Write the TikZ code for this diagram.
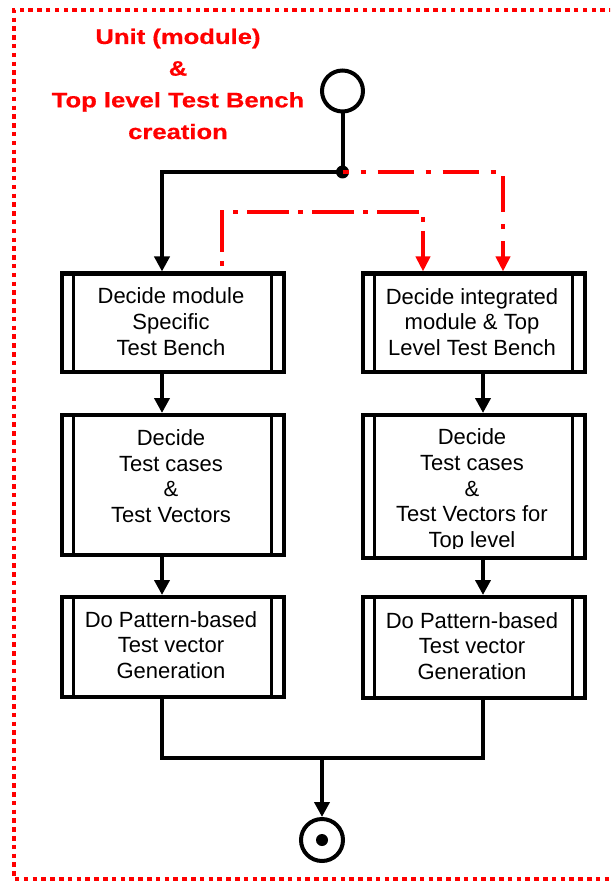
\documentclass[tikz,border=0pt]{standalone}
\usepackage{fontspec}
\setmainfont{Liberation Sans}
\newfontfamily\titlefont[FakeStretch=1.22,FakeBold=0.6]{Liberation Sans}
\usetikzlibrary{arrows.meta,calc}

\definecolor{flowred}{RGB}{255,0,0}

\tikzset{
  line/.style={line width=4, draw=black},
  flow/.style={line, -{Triangle[length=15pt,width=15pt]}},
  redflow/.style={line width=4.5, draw=flowred, -{Triangle[length=15pt,width=14pt]}, flowred},
  procbox/.style={draw, line width=4, inner sep=0, minimum width=222,
    path picture={
      \draw[line width=3.5] ([xshift=12pt]path picture bounding box.north west) --
                            ([xshift=12pt]path picture bounding box.south west);
      \draw[line width=3.5] ([xshift=-12pt]path picture bounding box.north east) --
                            ([xshift=-12pt]path picture bounding box.south east);}},
  boxtext/.style={align=center, inner sep=0, font=\fontsize{22}{25.7}\selectfont},
  titletext/.style={align=center, inner sep=0, text=flowred,
    font=\titlefont\bfseries\fontsize{21}{31.7}\selectfont},
  startnode/.style={circle, draw, line width=4, minimum size=41, inner sep=0},
  dotnode/.style={circle, fill, inner sep=0},
}

\begin{document}
\begin{tikzpicture}[x=1pt,y=-1pt]
\useasboundingbox (0,0) rectangle (610,882);
\clip (0,0) rectangle (610,882);

% dotted frame (right side runs off the page)
\draw[flowred, line width=4.5, dash pattern=on 4.5pt off 4.3pt]
  (640,10) -- (14,10) -- (14,879) -- (640,879);

% heading
\node[titletext] (title) at (178,84)
  {Unit (module)\\\&\\Top level Test Bench\\creation};

% start, fork and end
\node[startnode] (start) at (342.5,91) {};
\node[dotnode, minimum size=13] (fork) at (342.5,172) {};
\node[startnode, minimum size=42] (stop) at (322,840) {};
\node[dotnode, minimum size=12] (stopdot) at (stop) {};

% process boxes
\node[procbox, minimum height=98.5] (l1) at (172.5,322.75) {};
\node[procbox, minimum height=140]  (l2) at (172.5,485) {};
\node[procbox, minimum height=100]  (l3) at (172.5,647) {};
\node[procbox, minimum height=98.5] (r1) at (473.5,322.75) {};
\node[procbox, minimum height=143]  (r2) at (473.5,486.5) {};
\node[procbox, minimum height=101]  (r3) at (473.5,647.5) {};

% box texts
\node[boxtext] (l1t) at (171,321.5) {Decide module\\Specific\\Test Bench};
\node[boxtext] (l2t) at (171,476) {Decide\\Test cases\\\&\\Test Vectors};
\node[boxtext] (l3t) at (171,645) {Do Pattern-based\\Test vector\\Generation};
\node[boxtext] (r1t) at (472,322) {Decide integrated\\module \& Top\\Level Test Bench};
\begin{scope}
  \clip (380,417) rectangle (567,548);
  \node[boxtext] (r2t) at (472,490.5) {Decide\\Test cases\\\&\\Test Vectors for\\Top level};
\end{scope}
\node[boxtext] (r3t) at (472,646) {Do Pattern-based\\Test vector\\Generation};

% connector columns
\coordinate (lx) at (162,0);
\coordinate (rx) at (483,0);
\coordinate (redx) at (503,0);
\coordinate (redstart) at (222,266);
\coordinate (redtop) at (423,212);
\coordinate (merge) at (322,758);

% black flow
\draw[line] (start.south) -- (fork.center);
\draw[flow] (fork.center) -| (l1.north -| lx);
\draw[flow] (l1.south -| lx) -- (l2.north -| lx);
\draw[flow] (l2.south -| lx) -- (l3.north -| lx);
\draw[flow] (r1.south -| rx) -- (r2.north -| rx);
\draw[flow] (r2.south -| rx) -- (r3.north -| rx);
\draw[line] (l3.south -| lx) |- (merge) -| (r3.south -| rx);
\draw[flow] (merge) -- (stop.north);

% red dash-dot flows
\draw[redflow, dash pattern=on 36pt off 12pt on 5pt off 12pt, dash phase=30pt]
  (fork.center) -| (r1.north -| redx);
\draw[redflow, dash pattern=on 5pt off 9pt on 42pt off 9pt]
  (redstart) |- (redtop) -- (r1.north -| redtop);
\end{tikzpicture}
\end{document}
